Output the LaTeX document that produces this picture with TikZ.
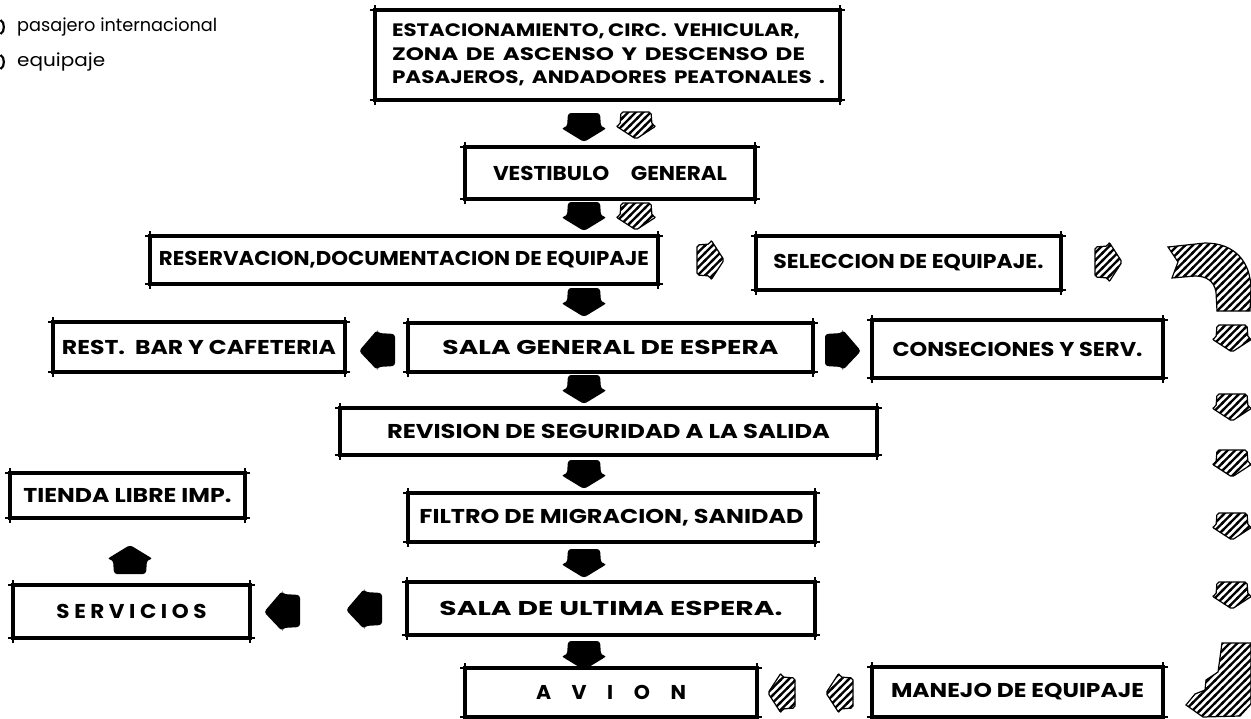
\documentclass[tikz,border=0pt]{standalone}
\usepackage{fontspec}
\setmainfont{Poppins}
\usepackage{graphicx}
\usetikzlibrary{patterns}
\pgfdeclarepatternformonly{hatch}{\pgfqpoint{-2pt}{-2pt}}{\pgfqpoint{9.5pt}{9.5pt}}{\pgfqpoint{7.5pt}{7.5pt}}{%
  \pgfsetlinewidth{2.3pt}%
  \pgfpathmoveto{\pgfqpoint{-1pt}{-1pt}}\pgfpathlineto{\pgfqpoint{8.5pt}{8.5pt}}\pgfusepath{stroke}}
\newcommand\fw[2]{\resizebox{#1pt}{\height}{#2}}
\newcommand\tk[1]{%
  \draw[line width=1.1pt] ([xshift=-5pt]#1.north west) -- ([xshift=5pt]#1.north east)
     ([yshift=5pt]#1.north east) -- ([yshift=-5pt]#1.south east)
     ([xshift=5pt]#1.south east) -- ([xshift=-5pt]#1.south west)
     ([yshift=-5pt]#1.south west) -- ([yshift=5pt]#1.north west);}
\tikzset{
  bx/.style={draw, line width=3.6pt, inner sep=0pt, outer sep=0pt, anchor=north west,
     font=\bfseries\fontsize{20}{22}\selectfont},
  legend/.style={anchor=base west, inner sep=0pt, font=\fontsize{18}{20}\selectfont},
  pics/blk/.style={code={\fill[rounded corners=3pt] (-16,-14) -- (16,-14) -- (17,0) -- (23,1) -- (0,15) -- (-23,1) -- (-17,0) -- cycle;}},
  pics/blkL/.style={code={\fill[rounded corners=3pt] (18,-16) -- (18,16) -- (1,17) -- (0,20) -- (-18,1) -- (0,-20) -- (1,-17) -- cycle;}},
  pics/blkR/.style={code={\fill[rounded corners=3pt] (-18,-16) -- (-18,16) -- (-1,17) -- (0,20) -- (18,1) -- (0,-20) -- (-1,-17) -- cycle;}},
  pics/hat/.style={code={\draw[line width=1.2pt, pattern=hatch, rounded corners=2pt] (-15,-13) -- (15,-13) -- (16,0) -- (20,1) -- (0,14) -- (-20,1) -- (-16,0) -- cycle;}},
}
\begin{document}
\begin{tikzpicture}[x=1pt,y=-1pt]
\useasboundingbox (0,0) rectangle (1251,718);
\fill[white] (0,0) rectangle (1251,718);

% legend
\draw[line width=2.2pt] (0.5,20) .. controls (5,22) and (5,32) .. (0.5,34);
\draw[line width=2.2pt] (0.5,55) .. controls (5,57) and (5,67) .. (0.5,69);
\node[legend] (lg1) at (17,31) {\fw{200}{pasajero internacional}};
\node[legend] (lg2) at (17,66) {\fw{88}{equipaje}};

% boxes
\node[bx, minimum width=465pt, minimum height=90pt, inner xsep=17pt, text width=431pt, align=left,
      font=\bfseries\fontsize{18}{23.5}\selectfont] (top) at (375,10)
  {\fw{408}{ESTACIONAMIENTO,\,CIRC. VEHICULAR,}\\\fw{413}{ZONA DE ASCENSO Y DESCENSO DE}\\\fw{433}{PASAJEROS, ANDADORES PEATONALES .}};
\node[bx, minimum width=290pt, minimum height=52pt] (vest) at (465,147) {\fw{234}{VESTIBULO\quad GENERAL}};
\node[bx, minimum width=508pt, minimum height=48pt] (res) at (150,236) {\fw{490}{RESERVACION,DOCUMENTACION DE EQUIPAJE}};
\node[bx, minimum width=305pt, minimum height=54pt] (sel) at (756,236) {\fw{270}{SELECCION DE EQUIPAJE.}};
\node[bx, minimum width=292pt, minimum height=50pt] (rest) at (53,322) {\fw{274}{REST.\ \ BAR Y CAFETERIA}};
\node[bx, minimum width=405pt, minimum height=49pt] (salag) at (408,323) {\fw{336}{SALA GENERAL DE ESPERA}};
\node[bx, minimum width=291pt, minimum height=58pt] (cons) at (872,320) {\fw{250}{CONSECIONES Y SERV.}};
\node[bx, minimum width=537pt, minimum height=47pt] (rev) at (340,408) {\fw{443}{REVISION DE SEGURIDAD A LA SALIDA}};
\node[bx, minimum width=235pt, minimum height=45pt] (tienda) at (10,473) {\fw{208}{TIENDA LIBRE IMP.}};
\node[bx, minimum width=407pt, minimum height=49pt] (filtro) at (408,493) {\fw{384}{FILTRO DE MIGRACION, SANIDAD}};
\node[bx, minimum width=237pt, minimum height=53pt] (serv) at (13,585) {\fw{150}{S E R V I C I O S}};
\node[bx, minimum width=408pt, minimum height=53pt] (salau) at (407,582) {\fw{343}{SALA DE ULTIMA ESPERA.}};
\node[bx, minimum width=292pt, minimum height=49pt] (avion) at (465,668) {\fw{150}{A\quad V\quad I\quad O\quad N}};
\node[bx, minimum width=291pt, minimum height=50pt] (manejo) at (872,667) {\fw{253}{MANEJO DE EQUIPAJE}};
\foreach \n in {top,vest,res,sel,rest,salag,cons,rev,tienda,filtro,serv,salau,avion,manejo} {\tk{\n}}

% black arrows (passenger flow)
\pic at (584,127) {blk};
\pic at (584,216) {blk};
\pic at (584,302) {blk};
\pic at (377,350) {blkL};
\pic at (843,350) {blkR};
\pic at (584,389) {blk};
\pic at (584,474) {blk};
\pic[rotate=180] at (130,560) {blk};
\pic at (584,563) {blk};
\pic at (282,611) {blkL};
\pic at (364,609) {blkL};
\pic at (584,655) {blk};

% hatched arrows (baggage flow)
\pic at (636,125) {hat};
\pic at (636,216) {hat};
\pic[rotate=90] at (710,260) {hat};
\pic[rotate=90] at (1108,262) {hat};
\draw[line width=1.2pt, pattern=hatch] (1168,247) -- (1205,243) .. controls (1235,243) and (1251,262) .. (1251,290)
   -- (1250,311) -- (1217,311) -- (1216,292) .. controls (1214,280) and (1205,276) .. (1195,276) -- (1172,278) -- (1178,262) -- cycle;
\foreach \yy in {338,407,463,526,595} {\pic at (1232,\yy) {hat};}
\draw[line width=1.2pt, pattern=hatch] (1222,643) -- (1251,643) -- (1251,704) -- (1240,716) -- (1203,717) -- (1186,705)
   -- (1195,694) -- (1205,690) -- (1206,680) -- (1218,672) -- cycle;
\pic[rotate=-90] at (840,693) {hat};
\pic[rotate=-90] at (782,693) {hat};
\end{tikzpicture}
\end{document}
